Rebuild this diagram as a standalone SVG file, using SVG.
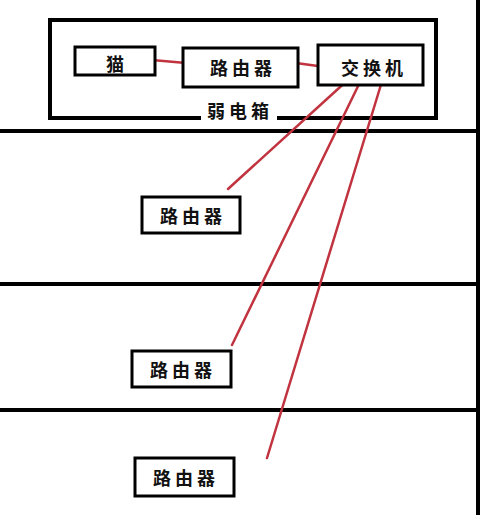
<svg xmlns="http://www.w3.org/2000/svg" width="480" height="515" viewBox="0 0 480 515">
<style>
.box{fill:#fff;stroke:#000;stroke-width:3}
.wall{stroke:#000;stroke-width:4;fill:none}
.lbl{font-family:"Noto Sans CJK SC","Noto Sans CJK JP",sans-serif;font-size:18px;font-weight:bold;fill:#111;text-anchor:middle;dominant-baseline:central;letter-spacing:4px}
.link{stroke:#c0333f;stroke-width:2.5;fill:none;stroke-linecap:round}
</style>
<rect width="480" height="515" fill="#fff"/>
<g id="walls">
<line class="wall" x1="0" y1="131" x2="480" y2="131"/>
<line class="wall" x1="0" y1="284" x2="480" y2="284"/>
<line class="wall" x1="0" y1="410" x2="480" y2="410"/>
<line class="wall" x1="478" y1="0" x2="478" y2="515" stroke-width="3"/>
</g>
<g id="cabinet">
<path class="wall" stroke-width="3" d="M201,118 H50 V20 H436 V118 H277"/>
<text class="lbl" x="240" y="110">弱电箱</text>
</g>
<g id="connectors">
<line class="link" x1="152" y1="60" x2="186" y2="63"/>
<line class="link" x1="296" y1="63" x2="325" y2="67"/>
<line class="link" x1="350" y1="78" x2="228" y2="189"/>
<line class="link" x1="362" y1="78" x2="232" y2="345"/>
<line class="link" x1="383" y1="78" x2="267" y2="458"/>
</g>
<g id="modem">
<rect class="box" x="75" y="47" width="80" height="28"/>
<text class="lbl" x="117" y="63">猫</text>
</g>
<g id="router0">
<rect class="box" x="183" y="48" width="115" height="39"/>
<text class="lbl" x="243" y="67">路由器</text>
</g>
<g id="switch">
<rect class="box" x="318" y="45" width="105" height="40"/>
<text class="lbl" x="374" y="67">交换机</text>
</g>
<g id="router1">
<rect class="box" x="142" y="197" width="98" height="36"/>
<text class="lbl" x="193" y="215">路由器</text>
</g>
<g id="router2">
<rect class="box" x="132" y="351" width="99" height="36"/>
<text class="lbl" x="183" y="369">路由器</text>
</g>
<g id="router3">
<rect class="box" x="135" y="458" width="99" height="38"/>
<text class="lbl" x="186" y="477">路由器</text>
</g>
</svg>
